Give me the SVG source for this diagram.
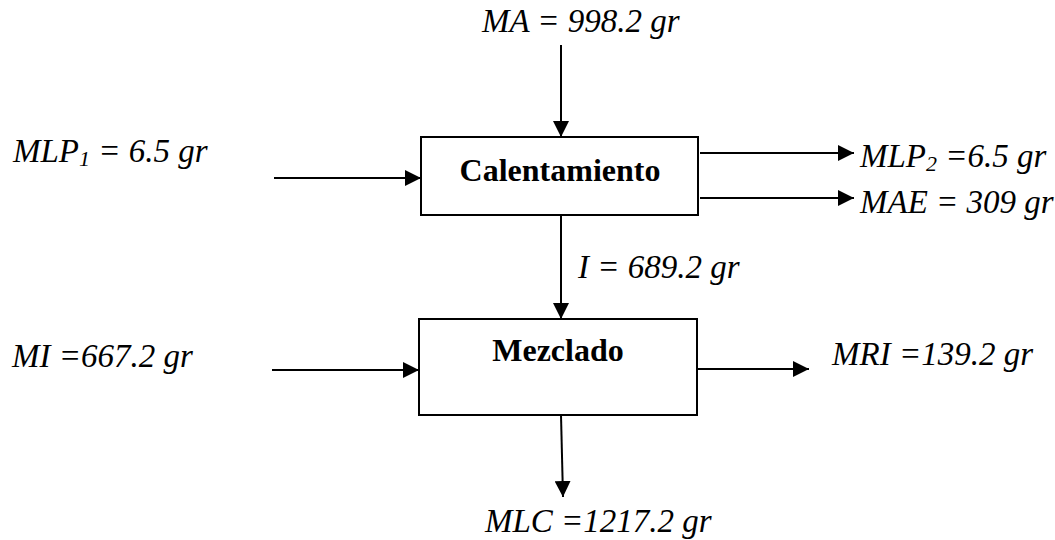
<svg xmlns="http://www.w3.org/2000/svg" width="1055" height="540" viewBox="0 0 1055 540">
  <defs>
    <marker id="arrow" markerUnits="userSpaceOnUse" markerWidth="16" markerHeight="16" refX="16" refY="8" orient="auto">
      <path d="M0,0 L16,8 L0,16 z" fill="#000"/>
    </marker>
  </defs>
  <rect width="1055" height="540" fill="#fff"/>

  <!-- process units -->
  <g id="calentamiento">
    <rect x="421" y="137" width="277" height="78" fill="#fff" stroke="#000" stroke-width="2"/>
    <text x="560" y="181" style="font-family: 'Liberation Serif', serif; font-size: 32px; font-weight: bold" text-anchor="middle">Calentamiento</text>
  </g>
  <g id="mezclado">
    <rect x="419" y="319" width="278" height="96" fill="#fff" stroke="#000" stroke-width="2"/>
    <text x="558" y="361" style="font-family: 'Liberation Serif', serif; font-size: 32px; font-weight: bold" text-anchor="middle">Mezclado</text>
  </g>

  <!-- mass streams -->
  <g id="connectors" stroke="#000" stroke-width="2" fill="none" marker-end="url(#arrow)">
    <line x1="561" y1="45" x2="561" y2="137"/>
    <line x1="274" y1="178" x2="421" y2="178"/>
    <line x1="700" y1="153" x2="854" y2="153"/>
    <line x1="700" y1="198" x2="854" y2="198"/>
    <line x1="561" y1="216" x2="561" y2="319"/>
    <line x1="272" y1="370" x2="419" y2="370"/>
    <line x1="697" y1="369" x2="809" y2="369"/>
    <line x1="561" y1="415" x2="563" y2="497"/>
  </g>

  <!-- stream labels -->
  <g id="labels">
    <text x="482" y="32" style="font-family: 'Liberation Serif', serif; font-size: 33px; font-style: italic">MA = 998.2 gr</text>
    <text x="13" y="162" style="font-family: 'Liberation Serif', serif; font-size: 33px; font-style: italic">MLP<tspan style="font-size: 22px" dy="4">1</tspan><tspan dy="-4"> = 6.5 gr</tspan></text>
    <text x="860" y="167" style="font-family: 'Liberation Serif', serif; font-size: 33px; font-style: italic">MLP<tspan style="font-size: 22px" dy="4">2</tspan><tspan dy="-4"> =6.5 gr</tspan></text>
    <text x="860" y="213" style="font-family: 'Liberation Serif', serif; font-size: 33px; font-style: italic">MAE = 309 gr</text>
    <text x="578" y="278" style="font-family: 'Liberation Serif', serif; font-size: 33px; font-style: italic">I = 689.2 gr</text>
    <text x="12" y="367" style="font-family: 'Liberation Serif', serif; font-size: 33px; font-style: italic">MI =667.2 gr</text>
    <text x="832" y="365" style="font-family: 'Liberation Serif', serif; font-size: 33px; font-style: italic">MRI =139.2 gr</text>
    <text x="485" y="532" style="font-family: 'Liberation Serif', serif; font-size: 33px; font-style: italic">MLC =1217.2 gr</text>
  </g>
</svg>
